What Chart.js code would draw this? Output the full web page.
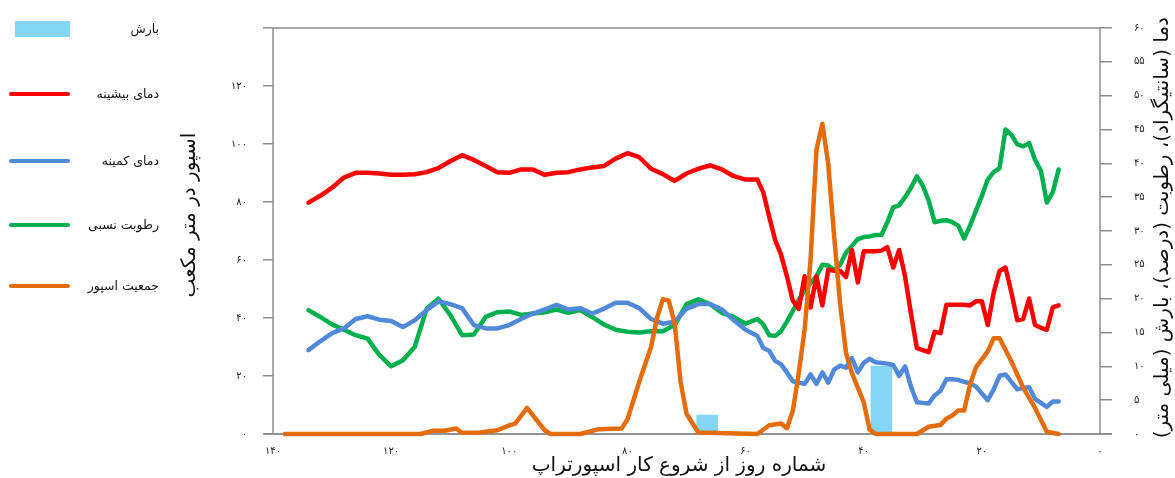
<!DOCTYPE html>
<html lang="fa">
<head>
<meta charset="utf-8">
<script src="https://cdn.jsdelivr.net/npm/chart.js@4/dist/chart.umd.min.js"></script>
<style>
  html, body { margin: 0; padding: 0; background: #fff; }
</style>
</head>
<body>
<canvas id="chart" width="1175" height="478"></canvas>
<script>
// روزها (شمارش معکوس از شروع کار اسپورتراپ)
const days = [134,132,130,128,126,124,122,120,118,116,114,112,110,108,106,104,102,100,98,96,94,92,90,88,86,84,82,80,78,76,74,72,70,68,66,64,62,60,
  58,57,56,55,54,53,52,51,50,49,48,47,46,45,44,43,42,41,40,39,38,37,36,35,34,33,32,31,30,29,28,27,26,25,24,23,22,21,20,19,18,17,16,15,14,13,12,11,10,9,8,7];

const maxTemp = [34.2,35.2,36.4,37.9,38.6,38.6,38.5,38.3,38.3,38.4,38.7,39.3,40.3,41.2,40.5,39.6,38.7,38.6,39.1,39.1,38.3,38.6,38.7,39.1,39.4,39.6,40.7,41.5,40.9,39.2,38.4,37.4,38.5,39.2,39.7,39.1,38.1,37.6,
  37.6,35.7,32.1,28.7,26.5,23.3,19.7,18.5,23.3,18.7,23.3,19.0,24.3,24.1,24.1,23.2,27.2,22.4,27.0,27.0,27.0,27.1,27.6,24.6,27.2,23.3,17.8,12.7,12.4,12.1,15.1,14.9,19.1,19.1,19.1,19.1,19.0,19.6,19.6,16.1,20.9,24.1,24.6,20.9,16.8,17.0,20.0,16.1,15.7,15.4,18.7,19.0];

const minTemp = [12.4,13.7,14.9,15.6,17.0,17.4,16.9,16.7,15.8,16.8,18.3,19.6,19.2,18.6,16.1,15.6,15.6,16.1,17.0,17.8,18.4,19.1,18.4,18.6,17.8,18.5,19.4,19.4,18.6,17.0,16.3,16.6,18.5,19.2,19.2,18.4,16.8,15.4,
  14.5,12.7,12.3,10.8,10.3,9.1,7.8,7.6,7.4,8.8,7.4,9.1,7.6,9.5,10.1,9.8,11.2,9.1,10.5,11.1,10.6,10.5,10.4,10.2,8.6,10.0,7.0,4.7,4.6,4.5,5.7,6.4,8.1,8.1,8.0,7.7,7.5,7.0,6.0,5.0,6.6,8.6,8.8,7.7,6.6,6.8,6.9,5.2,4.6,4.0,4.8,4.8];

const humidity = [18.3,17.3,16.2,15.4,14.6,14.1,11.7,10.0,10.9,12.9,18.5,20.0,17.6,14.6,14.7,17.3,18.0,18.1,17.6,17.8,18.0,18.4,17.9,18.3,17.3,16.2,15.4,15.1,15.0,15.2,15.2,16.1,19.2,19.9,19.2,17.9,17.3,16.3,
  17.0,16.2,14.6,14.5,15.2,16.6,18.2,19.8,21.2,22.3,23.3,25.0,24.9,24.2,25.0,26.8,27.8,28.8,29.1,29.2,29.4,29.4,31.3,33.5,33.8,35.0,36.4,38.1,36.7,34.5,31.3,31.5,31.6,31.3,30.8,28.9,30.8,33.0,35.2,37.6,38.7,39.3,45.0,44.2,42.8,42.5,43.0,40.5,38.9,34.2,35.7,39.1];

const sporeDays = [138,115,113,111,109,108,105,102,100,99,97,94,93,88,85,81,80,78,76,75,74,73,72,71,70,68,58,56,54,53,52,51,50,49,48,47,46,45,44,43,42,40,39,38,31,29,27,26,25,24,23,22,21,19,18,17,15,13,11,9,7];
const spores = [0,0,1.1,1.1,1.9,0.4,0.5,1.3,3.0,3.6,9.0,1.3,0,0,1.6,1.9,5,18,30,40,46.5,46,38,18,7,0.5,0,3,3.6,2,8,21,36,60,98,107,93,68,45,28,21,11,1.5,0,0,2.5,3.1,5.3,6.4,8.1,8.1,17,23,28.5,33,33,25,16,9,0.8,0];

const rainDays = [66.5, 37];
const rain = [2.8, 10.0];

const xTicks = [140, 120, 100, 80, 60, 40, 20, 0];
const leftTicks = [0, 20, 40, 60, 80, 100, 120];

const labels = ['بارش', 'دمای بیشینه', 'دمای کمینه', 'رطوبت نسبی', 'جمعیت اسپور'];
const xTitle = 'شماره روز از شروع کار اسپورتراپ';
const leftTitle = 'اسپور در متر مکعب';
const rightTitle = 'دما (سانتیگراد)، رطوبت (درصد)، بارش (میلی متر)';

const colors = ['#85d5f5', '#ff0000', '#5089d8', '#00b04f', '#e46c0a'];
const FONT = '"DejaVu Sans", sans-serif';
const FRAME = '#8c8c8c';

const fa = v => String(v).replace(/\d/g, d => '۰۱۲۳۴۵۶۷۸۹'[d]);
const pts = (xs, ys) => xs.map((x, i) => ({ x: x, y: ys[i] }));

const lineStyle = {
    type: 'line',
    borderWidth: 4.5,
    pointRadius: 0,
    tension: 0,
    borderJoinStyle: 'round',
    borderCapStyle: 'round',
    clip: false
};

// قاب، راهنما و عنوان محورها
const decor = {
    id: 'decor',
    beforeDatasetsDraw(chart) {
        const { ctx, chartArea: a } = chart;
        ctx.save();
        ctx.strokeStyle = FRAME;
        ctx.lineWidth = 1.5;
        ctx.strokeRect(a.left, a.top, a.right - a.left, a.bottom - a.top);
        ctx.beginPath();
        ctx.moveTo(a.left - 10, a.bottom);
        ctx.lineTo(a.right + 12, a.bottom);
        ctx.stroke();
        ctx.restore();
    },
    afterDraw(chart) {
        const ctx = chart.ctx;
        ctx.save();
        ctx.direction = 'rtl';
        ctx.fillStyle = '#111';
        ctx.textBaseline = 'middle';

        // legend
        const rows = [29, 94, 161, 225, 286];
        ctx.font = '12.5px ' + FONT;
        ctx.textAlign = 'right';
        rows.forEach((y, i) => {
            if (i === 0) {
                ctx.fillStyle = colors[0];
                ctx.fillRect(15, y - 8, 55, 16);
            } else {
                ctx.strokeStyle = colors[i];
                ctx.lineWidth = 4;
                ctx.lineCap = 'round';
                ctx.beginPath();
                ctx.moveTo(11, y);
                ctx.lineTo(68, y);
                ctx.stroke();
            }
            ctx.fillStyle = '#111';
            ctx.fillText(labels[i], 159, y + 1);
        });

        // x title
        ctx.font = '20px ' + FONT;
        ctx.textAlign = 'center';
        ctx.fillText(xTitle, 679, 466);

        // left title
        ctx.save();
        ctx.translate(190, 215);
        ctx.rotate(-Math.PI / 2);
        ctx.font = '20px ' + FONT;
        ctx.fillText(leftTitle, 0, 0);
        ctx.restore();

        // right title
        ctx.save();
        ctx.translate(1163, 17);
        ctx.rotate(-Math.PI / 2);
        ctx.font = '20px ' + FONT;
        ctx.textAlign = 'right';
        ctx.fillText(rightTitle, 0, 0);
        ctx.restore();

        ctx.restore();
    }
};

new Chart(document.getElementById('chart'), {
    data: {
        datasets: [
            Object.assign({}, lineStyle, { label: labels[4], data: pts(sporeDays, spores), borderColor: colors[4], yAxisID: 'y', order: 0 }),
            Object.assign({}, lineStyle, { label: labels[1], data: pts(days, maxTemp), borderColor: colors[1], yAxisID: 'y1', order: 1 }),
            Object.assign({}, lineStyle, { label: labels[2], data: pts(days, minTemp), borderColor: colors[2], yAxisID: 'y1', order: 2 }),
            Object.assign({}, lineStyle, { label: labels[3], data: pts(days, humidity), borderColor: colors[3], yAxisID: 'y1', order: 3 }),
            {
                type: 'bar',
                label: labels[0],
                data: pts(rainDays, rain),
                backgroundColor: colors[0],
                barThickness: 21,
                yAxisID: 'y1',
                order: 4
            }
        ]
    },
    options: {
        responsive: false,
        animation: false,
        layout: { padding: { top: 21, left: 0, right: 0, bottom: 0 } },
        plugins: { legend: { display: false }, tooltip: { enabled: false } },
        scales: {
            x: {
                type: 'linear',
                reverse: true,
                offset: false,
                min: 0,
                max: 140,
                afterBuildTicks: s => { s.ticks = xTicks.map(v => ({ value: v })); },
                ticks: {
                    autoSkip: false,
                    maxRotation: 0,
                    padding: 11,
                    color: '#222',
                    font: { family: FONT, size: 10 },
                    callback: v => fa(v)
                },
                grid: { display: false, drawTicks: false },
                border: { display: false },
                afterFit: s => { s.height = 44; }
            },
            y: {
                position: 'left',
                min: 0,
                max: 140,
                afterBuildTicks: s => { s.ticks = leftTicks.concat([140]).map(v => ({ value: v })); },
                ticks: {
                    padding: 16,
                    color: '#222',
                    font: { family: FONT, size: 10 },
                    callback: v => (v === 140 ? '' : fa(v))
                },
                grid: { drawOnChartArea: false, drawTicks: true, tickLength: 10, color: FRAME, lineWidth: 1.5 },
                border: { display: false },
                afterFit: s => { s.width = 273; }
            },
            y1: {
                position: 'right',
                min: 0,
                max: 60,
                ticks: {
                    stepSize: 5,
                    padding: 22,
                    color: '#222',
                    font: { family: FONT, size: 10 },
                    callback: v => fa(v)
                },
                grid: { drawOnChartArea: false, drawTicks: true, tickLength: 12, color: FRAME, lineWidth: 1.5 },
                border: { display: false },
                afterFit: s => { s.width = 75; }
            }
        }
    },
    plugins: [decor]
});
</script>
</body>
</html>
